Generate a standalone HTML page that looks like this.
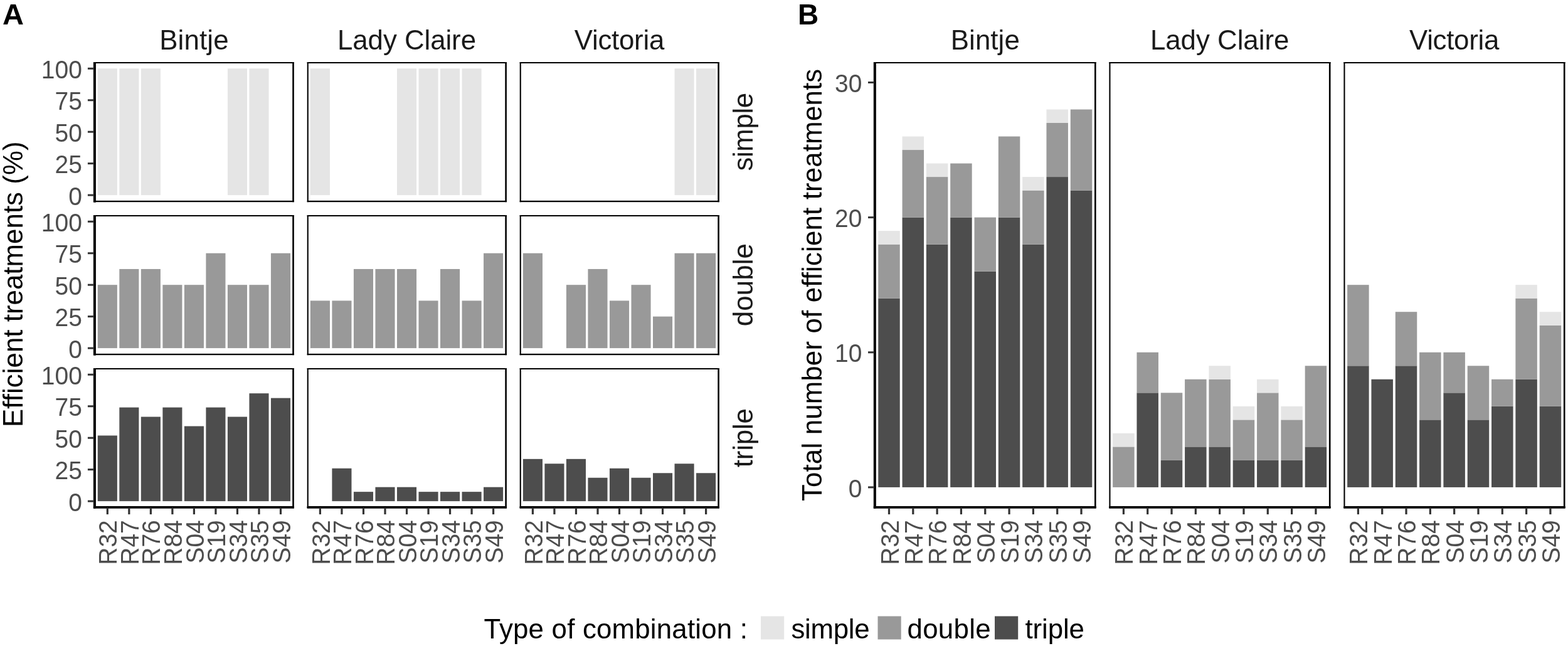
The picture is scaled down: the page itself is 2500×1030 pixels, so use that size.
<!DOCTYPE html>
<html><head><meta charset="utf-8"><title>Efficient treatments</title>
<style>
html,body{margin:0;padding:0;background:#fff;}
body{width:2500px;height:1030px;overflow:hidden;}
svg{display:block;}
svg text{font-family:'Liberation Sans', Arial, sans-serif;}
</style></head><body>
<svg width="2500" height="1030" viewBox="0 0 2500 1030" shape-rendering="geometricPrecision">
<rect x="0" y="0" width="2500" height="1030" fill="#ffffff"/>
<rect x="155.78" y="109.29" width="31.07" height="201.82" fill="#e5e5e5"/>
<rect x="190.30" y="109.29" width="31.07" height="201.82" fill="#e5e5e5"/>
<rect x="224.82" y="109.29" width="31.07" height="201.82" fill="#e5e5e5"/>
<rect x="362.91" y="109.29" width="31.07" height="201.82" fill="#e5e5e5"/>
<rect x="397.43" y="109.29" width="31.07" height="201.82" fill="#e5e5e5"/>
<rect x="150.60" y="99.00" width="318.20" height="2.00" fill="#000000"/>
<rect x="150.60" y="319.90" width="318.20" height="2.30" fill="#000000"/>
<rect x="150.60" y="99.00" width="2.10" height="223.20" fill="#000000"/>
<rect x="466.20" y="99.00" width="2.60" height="223.20" fill="#000000"/>
<rect x="148.90" y="99.00" width="3.80" height="223.70" fill="#000000"/>
<rect x="139.90" y="309.61" width="10.00" height="3.00" fill="#333333"/>
<text transform="translate(130.90,326.71) scale(1,1.0407)" font-size="39.0" fill="#4d4d4d" text-anchor="end">0</text>
<rect x="139.90" y="259.15" width="10.00" height="3.00" fill="#333333"/>
<text transform="translate(130.90,276.25) scale(1,1.0407)" font-size="39.0" fill="#4d4d4d" text-anchor="end">25</text>
<rect x="139.90" y="208.70" width="10.00" height="3.00" fill="#333333"/>
<text transform="translate(130.90,225.80) scale(1,1.0407)" font-size="39.0" fill="#4d4d4d" text-anchor="end">50</text>
<rect x="139.90" y="158.25" width="10.00" height="3.00" fill="#333333"/>
<text transform="translate(130.90,175.35) scale(1,1.0407)" font-size="39.0" fill="#4d4d4d" text-anchor="end">75</text>
<rect x="139.90" y="107.79" width="10.00" height="3.00" fill="#333333"/>
<text transform="translate(130.90,124.89) scale(1,1.0407)" font-size="39.0" fill="#4d4d4d" text-anchor="end">100</text>
<rect x="155.78" y="454.20" width="31.07" height="100.91" fill="#999999"/>
<rect x="190.30" y="428.97" width="31.07" height="126.14" fill="#999999"/>
<rect x="224.82" y="428.97" width="31.07" height="126.14" fill="#999999"/>
<rect x="259.34" y="454.20" width="31.07" height="100.91" fill="#999999"/>
<rect x="293.87" y="454.20" width="31.07" height="100.91" fill="#999999"/>
<rect x="328.39" y="403.75" width="31.07" height="151.36" fill="#999999"/>
<rect x="362.91" y="454.20" width="31.07" height="100.91" fill="#999999"/>
<rect x="397.43" y="454.20" width="31.07" height="100.91" fill="#999999"/>
<rect x="431.95" y="403.75" width="31.07" height="151.36" fill="#999999"/>
<rect x="150.60" y="343.00" width="318.20" height="2.00" fill="#000000"/>
<rect x="150.60" y="563.90" width="318.20" height="2.30" fill="#000000"/>
<rect x="150.60" y="343.00" width="2.10" height="223.20" fill="#000000"/>
<rect x="466.20" y="343.00" width="2.60" height="223.20" fill="#000000"/>
<rect x="148.90" y="343.00" width="3.80" height="223.70" fill="#000000"/>
<rect x="139.90" y="553.61" width="10.00" height="3.00" fill="#333333"/>
<text transform="translate(130.90,570.71) scale(1,1.0407)" font-size="39.0" fill="#4d4d4d" text-anchor="end">0</text>
<rect x="139.90" y="503.15" width="10.00" height="3.00" fill="#333333"/>
<text transform="translate(130.90,520.25) scale(1,1.0407)" font-size="39.0" fill="#4d4d4d" text-anchor="end">25</text>
<rect x="139.90" y="452.70" width="10.00" height="3.00" fill="#333333"/>
<text transform="translate(130.90,469.80) scale(1,1.0407)" font-size="39.0" fill="#4d4d4d" text-anchor="end">50</text>
<rect x="139.90" y="402.25" width="10.00" height="3.00" fill="#333333"/>
<text transform="translate(130.90,419.35) scale(1,1.0407)" font-size="39.0" fill="#4d4d4d" text-anchor="end">75</text>
<rect x="139.90" y="351.79" width="10.00" height="3.00" fill="#333333"/>
<text transform="translate(130.90,368.89) scale(1,1.0407)" font-size="39.0" fill="#4d4d4d" text-anchor="end">100</text>
<rect x="155.78" y="694.46" width="31.07" height="104.65" fill="#4d4d4d"/>
<rect x="190.30" y="649.61" width="31.07" height="149.49" fill="#4d4d4d"/>
<rect x="224.82" y="664.56" width="31.07" height="134.55" fill="#4d4d4d"/>
<rect x="259.34" y="649.61" width="31.07" height="149.49" fill="#4d4d4d"/>
<rect x="293.87" y="679.51" width="31.07" height="119.60" fill="#4d4d4d"/>
<rect x="328.39" y="649.61" width="31.07" height="149.49" fill="#4d4d4d"/>
<rect x="362.91" y="664.56" width="31.07" height="134.55" fill="#4d4d4d"/>
<rect x="397.43" y="627.19" width="31.07" height="171.92" fill="#4d4d4d"/>
<rect x="431.95" y="634.66" width="31.07" height="164.44" fill="#4d4d4d"/>
<rect x="150.60" y="587.00" width="318.20" height="2.00" fill="#000000"/>
<rect x="150.60" y="807.90" width="318.20" height="2.30" fill="#000000"/>
<rect x="150.60" y="587.00" width="2.10" height="223.20" fill="#000000"/>
<rect x="466.20" y="587.00" width="2.60" height="223.20" fill="#000000"/>
<rect x="148.90" y="587.00" width="3.80" height="223.70" fill="#000000"/>
<rect x="148.90" y="807.00" width="319.90" height="3.70" fill="#000000"/>
<rect x="139.90" y="797.61" width="10.00" height="3.00" fill="#333333"/>
<text transform="translate(130.90,814.71) scale(1,1.0407)" font-size="39.0" fill="#4d4d4d" text-anchor="end">0</text>
<rect x="139.90" y="747.15" width="10.00" height="3.00" fill="#333333"/>
<text transform="translate(130.90,764.25) scale(1,1.0407)" font-size="39.0" fill="#4d4d4d" text-anchor="end">25</text>
<rect x="139.90" y="696.70" width="10.00" height="3.00" fill="#333333"/>
<text transform="translate(130.90,713.80) scale(1,1.0407)" font-size="39.0" fill="#4d4d4d" text-anchor="end">50</text>
<rect x="139.90" y="646.25" width="10.00" height="3.00" fill="#333333"/>
<text transform="translate(130.90,663.35) scale(1,1.0407)" font-size="39.0" fill="#4d4d4d" text-anchor="end">75</text>
<rect x="139.90" y="595.79" width="10.00" height="3.00" fill="#333333"/>
<text transform="translate(130.90,612.89) scale(1,1.0407)" font-size="39.0" fill="#4d4d4d" text-anchor="end">100</text>
<rect x="169.71" y="809.20" width="3.20" height="10.90" fill="#333333"/>
<text transform="translate(186.41,829.20) rotate(-90) scale(1,1.0407)" font-size="39.0" fill="#4d4d4d" text-anchor="end">R32</text>
<rect x="204.23" y="809.20" width="3.20" height="10.90" fill="#333333"/>
<text transform="translate(220.93,829.20) rotate(-90) scale(1,1.0407)" font-size="39.0" fill="#4d4d4d" text-anchor="end">R47</text>
<rect x="238.76" y="809.20" width="3.20" height="10.90" fill="#333333"/>
<text transform="translate(255.46,829.20) rotate(-90) scale(1,1.0407)" font-size="39.0" fill="#4d4d4d" text-anchor="end">R76</text>
<rect x="273.28" y="809.20" width="3.20" height="10.90" fill="#333333"/>
<text transform="translate(289.98,829.20) rotate(-90) scale(1,1.0407)" font-size="39.0" fill="#4d4d4d" text-anchor="end">R84</text>
<rect x="307.80" y="809.20" width="3.20" height="10.90" fill="#333333"/>
<text transform="translate(324.50,829.20) rotate(-90) scale(1,1.0407)" font-size="39.0" fill="#4d4d4d" text-anchor="end">S04</text>
<rect x="342.32" y="809.20" width="3.20" height="10.90" fill="#333333"/>
<text transform="translate(359.02,829.20) rotate(-90) scale(1,1.0407)" font-size="39.0" fill="#4d4d4d" text-anchor="end">S19</text>
<rect x="376.84" y="809.20" width="3.20" height="10.90" fill="#333333"/>
<text transform="translate(393.54,829.20) rotate(-90) scale(1,1.0407)" font-size="39.0" fill="#4d4d4d" text-anchor="end">S34</text>
<rect x="411.37" y="809.20" width="3.20" height="10.90" fill="#333333"/>
<text transform="translate(428.07,829.20) rotate(-90) scale(1,1.0407)" font-size="39.0" fill="#4d4d4d" text-anchor="end">S35</text>
<rect x="445.89" y="809.20" width="3.20" height="10.90" fill="#333333"/>
<text transform="translate(462.59,829.20) rotate(-90) scale(1,1.0407)" font-size="39.0" fill="#4d4d4d" text-anchor="end">S49</text>
<text transform="translate(309.40,78.90) scale(1,1.0)" font-size="43.8" fill="#1a1a1a" text-anchor="middle" textLength="110.40" lengthAdjust="spacing">Bintje</text>
<rect x="494.88" y="109.29" width="31.07" height="201.82" fill="#e5e5e5"/>
<rect x="632.97" y="109.29" width="31.07" height="201.82" fill="#e5e5e5"/>
<rect x="667.49" y="109.29" width="31.07" height="201.82" fill="#e5e5e5"/>
<rect x="702.01" y="109.29" width="31.07" height="201.82" fill="#e5e5e5"/>
<rect x="736.53" y="109.29" width="31.07" height="201.82" fill="#e5e5e5"/>
<rect x="489.70" y="99.00" width="318.20" height="2.00" fill="#000000"/>
<rect x="489.70" y="319.90" width="318.20" height="2.30" fill="#000000"/>
<rect x="489.70" y="99.00" width="2.10" height="223.20" fill="#000000"/>
<rect x="805.30" y="99.00" width="2.60" height="223.20" fill="#000000"/>
<rect x="494.88" y="479.43" width="31.07" height="75.68" fill="#999999"/>
<rect x="529.40" y="479.43" width="31.07" height="75.68" fill="#999999"/>
<rect x="563.92" y="428.97" width="31.07" height="126.14" fill="#999999"/>
<rect x="598.44" y="428.97" width="31.07" height="126.14" fill="#999999"/>
<rect x="632.97" y="428.97" width="31.07" height="126.14" fill="#999999"/>
<rect x="667.49" y="479.43" width="31.07" height="75.68" fill="#999999"/>
<rect x="702.01" y="428.97" width="31.07" height="126.14" fill="#999999"/>
<rect x="736.53" y="479.43" width="31.07" height="75.68" fill="#999999"/>
<rect x="771.05" y="403.75" width="31.07" height="151.36" fill="#999999"/>
<rect x="489.70" y="343.00" width="318.20" height="2.00" fill="#000000"/>
<rect x="489.70" y="563.90" width="318.20" height="2.30" fill="#000000"/>
<rect x="489.70" y="343.00" width="2.10" height="223.20" fill="#000000"/>
<rect x="805.30" y="343.00" width="2.60" height="223.20" fill="#000000"/>
<rect x="529.40" y="746.79" width="31.07" height="52.32" fill="#4d4d4d"/>
<rect x="563.92" y="784.16" width="31.07" height="14.95" fill="#4d4d4d"/>
<rect x="598.44" y="776.68" width="31.07" height="22.42" fill="#4d4d4d"/>
<rect x="632.97" y="776.68" width="31.07" height="22.42" fill="#4d4d4d"/>
<rect x="667.49" y="784.16" width="31.07" height="14.95" fill="#4d4d4d"/>
<rect x="702.01" y="784.16" width="31.07" height="14.95" fill="#4d4d4d"/>
<rect x="736.53" y="784.16" width="31.07" height="14.95" fill="#4d4d4d"/>
<rect x="771.05" y="776.68" width="31.07" height="22.42" fill="#4d4d4d"/>
<rect x="489.70" y="587.00" width="318.20" height="2.00" fill="#000000"/>
<rect x="489.70" y="807.90" width="318.20" height="2.30" fill="#000000"/>
<rect x="489.70" y="587.00" width="2.10" height="223.20" fill="#000000"/>
<rect x="805.30" y="587.00" width="2.60" height="223.20" fill="#000000"/>
<rect x="489.70" y="807.00" width="318.20" height="3.70" fill="#000000"/>
<rect x="508.81" y="809.20" width="3.20" height="10.90" fill="#333333"/>
<text transform="translate(525.51,829.20) rotate(-90) scale(1,1.0407)" font-size="39.0" fill="#4d4d4d" text-anchor="end">R32</text>
<rect x="543.33" y="809.20" width="3.20" height="10.90" fill="#333333"/>
<text transform="translate(560.03,829.20) rotate(-90) scale(1,1.0407)" font-size="39.0" fill="#4d4d4d" text-anchor="end">R47</text>
<rect x="577.86" y="809.20" width="3.20" height="10.90" fill="#333333"/>
<text transform="translate(594.56,829.20) rotate(-90) scale(1,1.0407)" font-size="39.0" fill="#4d4d4d" text-anchor="end">R76</text>
<rect x="612.38" y="809.20" width="3.20" height="10.90" fill="#333333"/>
<text transform="translate(629.08,829.20) rotate(-90) scale(1,1.0407)" font-size="39.0" fill="#4d4d4d" text-anchor="end">R84</text>
<rect x="646.90" y="809.20" width="3.20" height="10.90" fill="#333333"/>
<text transform="translate(663.60,829.20) rotate(-90) scale(1,1.0407)" font-size="39.0" fill="#4d4d4d" text-anchor="end">S04</text>
<rect x="681.42" y="809.20" width="3.20" height="10.90" fill="#333333"/>
<text transform="translate(698.12,829.20) rotate(-90) scale(1,1.0407)" font-size="39.0" fill="#4d4d4d" text-anchor="end">S19</text>
<rect x="715.94" y="809.20" width="3.20" height="10.90" fill="#333333"/>
<text transform="translate(732.64,829.20) rotate(-90) scale(1,1.0407)" font-size="39.0" fill="#4d4d4d" text-anchor="end">S34</text>
<rect x="750.47" y="809.20" width="3.20" height="10.90" fill="#333333"/>
<text transform="translate(767.17,829.20) rotate(-90) scale(1,1.0407)" font-size="39.0" fill="#4d4d4d" text-anchor="end">S35</text>
<rect x="784.99" y="809.20" width="3.20" height="10.90" fill="#333333"/>
<text transform="translate(801.69,829.20) rotate(-90) scale(1,1.0407)" font-size="39.0" fill="#4d4d4d" text-anchor="end">S49</text>
<text transform="translate(648.50,78.90) scale(1,1.0)" font-size="43.8" fill="#1a1a1a" text-anchor="middle" textLength="221.00" lengthAdjust="spacing">Lady Claire</text>
<rect x="1075.53" y="109.29" width="31.07" height="201.82" fill="#e5e5e5"/>
<rect x="1110.05" y="109.29" width="31.07" height="201.82" fill="#e5e5e5"/>
<rect x="828.70" y="99.00" width="318.20" height="2.00" fill="#000000"/>
<rect x="828.70" y="319.90" width="318.20" height="2.30" fill="#000000"/>
<rect x="828.70" y="99.00" width="2.10" height="223.20" fill="#000000"/>
<rect x="1144.30" y="99.00" width="2.60" height="223.20" fill="#000000"/>
<rect x="833.88" y="403.75" width="31.07" height="151.36" fill="#999999"/>
<rect x="902.92" y="454.20" width="31.07" height="100.91" fill="#999999"/>
<rect x="937.44" y="428.97" width="31.07" height="126.14" fill="#999999"/>
<rect x="971.97" y="479.43" width="31.07" height="75.68" fill="#999999"/>
<rect x="1006.49" y="454.20" width="31.07" height="100.91" fill="#999999"/>
<rect x="1041.01" y="504.65" width="31.07" height="50.45" fill="#999999"/>
<rect x="1075.53" y="403.75" width="31.07" height="151.36" fill="#999999"/>
<rect x="1110.05" y="403.75" width="31.07" height="151.36" fill="#999999"/>
<rect x="828.70" y="343.00" width="318.20" height="2.00" fill="#000000"/>
<rect x="828.70" y="563.90" width="318.20" height="2.30" fill="#000000"/>
<rect x="828.70" y="343.00" width="2.10" height="223.20" fill="#000000"/>
<rect x="1144.30" y="343.00" width="2.60" height="223.20" fill="#000000"/>
<rect x="833.88" y="731.84" width="31.07" height="67.27" fill="#4d4d4d"/>
<rect x="868.40" y="739.31" width="31.07" height="59.80" fill="#4d4d4d"/>
<rect x="902.92" y="731.84" width="31.07" height="67.27" fill="#4d4d4d"/>
<rect x="937.44" y="761.74" width="31.07" height="37.37" fill="#4d4d4d"/>
<rect x="971.97" y="746.79" width="31.07" height="52.32" fill="#4d4d4d"/>
<rect x="1006.49" y="761.74" width="31.07" height="37.37" fill="#4d4d4d"/>
<rect x="1041.01" y="754.26" width="31.07" height="44.85" fill="#4d4d4d"/>
<rect x="1075.53" y="739.31" width="31.07" height="59.80" fill="#4d4d4d"/>
<rect x="1110.05" y="754.26" width="31.07" height="44.85" fill="#4d4d4d"/>
<rect x="828.70" y="587.00" width="318.20" height="2.00" fill="#000000"/>
<rect x="828.70" y="807.90" width="318.20" height="2.30" fill="#000000"/>
<rect x="828.70" y="587.00" width="2.10" height="223.20" fill="#000000"/>
<rect x="1144.30" y="587.00" width="2.60" height="223.20" fill="#000000"/>
<rect x="828.70" y="807.00" width="318.20" height="3.70" fill="#000000"/>
<rect x="847.81" y="809.20" width="3.20" height="10.90" fill="#333333"/>
<text transform="translate(864.51,829.20) rotate(-90) scale(1,1.0407)" font-size="39.0" fill="#4d4d4d" text-anchor="end">R32</text>
<rect x="882.33" y="809.20" width="3.20" height="10.90" fill="#333333"/>
<text transform="translate(899.03,829.20) rotate(-90) scale(1,1.0407)" font-size="39.0" fill="#4d4d4d" text-anchor="end">R47</text>
<rect x="916.86" y="809.20" width="3.20" height="10.90" fill="#333333"/>
<text transform="translate(933.56,829.20) rotate(-90) scale(1,1.0407)" font-size="39.0" fill="#4d4d4d" text-anchor="end">R76</text>
<rect x="951.38" y="809.20" width="3.20" height="10.90" fill="#333333"/>
<text transform="translate(968.08,829.20) rotate(-90) scale(1,1.0407)" font-size="39.0" fill="#4d4d4d" text-anchor="end">R84</text>
<rect x="985.90" y="809.20" width="3.20" height="10.90" fill="#333333"/>
<text transform="translate(1002.60,829.20) rotate(-90) scale(1,1.0407)" font-size="39.0" fill="#4d4d4d" text-anchor="end">S04</text>
<rect x="1020.42" y="809.20" width="3.20" height="10.90" fill="#333333"/>
<text transform="translate(1037.12,829.20) rotate(-90) scale(1,1.0407)" font-size="39.0" fill="#4d4d4d" text-anchor="end">S19</text>
<rect x="1054.94" y="809.20" width="3.20" height="10.90" fill="#333333"/>
<text transform="translate(1071.64,829.20) rotate(-90) scale(1,1.0407)" font-size="39.0" fill="#4d4d4d" text-anchor="end">S34</text>
<rect x="1089.47" y="809.20" width="3.20" height="10.90" fill="#333333"/>
<text transform="translate(1106.17,829.20) rotate(-90) scale(1,1.0407)" font-size="39.0" fill="#4d4d4d" text-anchor="end">S35</text>
<rect x="1123.99" y="809.20" width="3.20" height="10.90" fill="#333333"/>
<text transform="translate(1140.69,829.20) rotate(-90) scale(1,1.0407)" font-size="39.0" fill="#4d4d4d" text-anchor="end">S49</text>
<text transform="translate(987.50,78.90) scale(1,1.0)" font-size="43.8" fill="#1a1a1a" text-anchor="middle" textLength="143.50" lengthAdjust="spacing">Victoria</text>
<text transform="translate(1200.00,210.20) rotate(-90) scale(1,1.0)" font-size="43.8" fill="#1a1a1a" text-anchor="middle" textLength="124.80" lengthAdjust="spacing">simple</text>
<text transform="translate(1200.00,454.20) rotate(-90) scale(1,1.0)" font-size="43.8" fill="#1a1a1a" text-anchor="middle" textLength="132.20" lengthAdjust="spacing">double</text>
<text transform="translate(1200.00,698.20) rotate(-90) scale(1,1.0)" font-size="43.8" fill="#1a1a1a" text-anchor="middle" textLength="94.10" lengthAdjust="spacing">triple</text>
<text transform="translate(36.00,453.20) rotate(-90) scale(1,1.0)" font-size="43.8" fill="#000000" text-anchor="middle" textLength="455.40" lengthAdjust="spacing">Efficient treatments (%)</text>
<rect x="1400.25" y="475.72" width="34.48" height="301.21" fill="#4d4d4d"/>
<rect x="1400.25" y="389.65" width="34.48" height="86.06" fill="#999999"/>
<rect x="1400.25" y="368.14" width="34.48" height="21.52" fill="#e5e5e5"/>
<rect x="1438.56" y="346.62" width="34.48" height="430.30" fill="#4d4d4d"/>
<rect x="1438.56" y="239.05" width="34.48" height="107.58" fill="#999999"/>
<rect x="1438.56" y="217.53" width="34.48" height="21.52" fill="#e5e5e5"/>
<rect x="1476.88" y="389.65" width="34.48" height="387.27" fill="#4d4d4d"/>
<rect x="1476.88" y="282.08" width="34.48" height="107.58" fill="#999999"/>
<rect x="1476.88" y="260.56" width="34.48" height="21.52" fill="#e5e5e5"/>
<rect x="1515.19" y="346.62" width="34.48" height="430.30" fill="#4d4d4d"/>
<rect x="1515.19" y="260.56" width="34.48" height="86.06" fill="#999999"/>
<rect x="1553.51" y="432.68" width="34.48" height="344.24" fill="#4d4d4d"/>
<rect x="1553.51" y="346.62" width="34.48" height="86.06" fill="#999999"/>
<rect x="1591.82" y="346.62" width="34.48" height="430.30" fill="#4d4d4d"/>
<rect x="1591.82" y="217.53" width="34.48" height="129.09" fill="#999999"/>
<rect x="1630.14" y="389.65" width="34.48" height="387.27" fill="#4d4d4d"/>
<rect x="1630.14" y="303.59" width="34.48" height="86.06" fill="#999999"/>
<rect x="1630.14" y="282.08" width="34.48" height="21.52" fill="#e5e5e5"/>
<rect x="1668.45" y="282.08" width="34.48" height="494.85" fill="#4d4d4d"/>
<rect x="1668.45" y="196.02" width="34.48" height="86.06" fill="#999999"/>
<rect x="1668.45" y="174.50" width="34.48" height="21.52" fill="#e5e5e5"/>
<rect x="1706.77" y="303.59" width="34.48" height="473.33" fill="#4d4d4d"/>
<rect x="1706.77" y="174.50" width="34.48" height="129.09" fill="#999999"/>
<rect x="1394.50" y="99.00" width="353.10" height="2.00" fill="#000000"/>
<rect x="1394.50" y="807.90" width="353.10" height="2.30" fill="#000000"/>
<rect x="1394.50" y="99.00" width="2.10" height="711.20" fill="#000000"/>
<rect x="1745.00" y="99.00" width="2.60" height="711.20" fill="#000000"/>
<rect x="1392.80" y="99.00" width="3.80" height="711.70" fill="#000000"/>
<rect x="1392.80" y="807.00" width="354.80" height="3.70" fill="#000000"/>
<rect x="1384.00" y="775.43" width="10.00" height="3.00" fill="#333333"/>
<text transform="translate(1374.50,792.53) scale(1,1.0407)" font-size="39.0" fill="#4d4d4d" text-anchor="end">0</text>
<rect x="1384.00" y="560.28" width="10.00" height="3.00" fill="#333333"/>
<text transform="translate(1374.50,577.38) scale(1,1.0407)" font-size="39.0" fill="#4d4d4d" text-anchor="end">10</text>
<rect x="1384.00" y="345.12" width="10.00" height="3.00" fill="#333333"/>
<text transform="translate(1374.50,362.22) scale(1,1.0407)" font-size="39.0" fill="#4d4d4d" text-anchor="end">20</text>
<rect x="1384.00" y="129.97" width="10.00" height="3.00" fill="#333333"/>
<text transform="translate(1374.50,147.07) scale(1,1.0407)" font-size="39.0" fill="#4d4d4d" text-anchor="end">30</text>
<rect x="1415.89" y="809.20" width="3.20" height="10.90" fill="#333333"/>
<text transform="translate(1432.59,829.20) rotate(-90) scale(1,1.0407)" font-size="39.0" fill="#4d4d4d" text-anchor="end">R32</text>
<rect x="1454.20" y="809.20" width="3.20" height="10.90" fill="#333333"/>
<text transform="translate(1470.90,829.20) rotate(-90) scale(1,1.0407)" font-size="39.0" fill="#4d4d4d" text-anchor="end">R47</text>
<rect x="1492.52" y="809.20" width="3.20" height="10.90" fill="#333333"/>
<text transform="translate(1509.22,829.20) rotate(-90) scale(1,1.0407)" font-size="39.0" fill="#4d4d4d" text-anchor="end">R76</text>
<rect x="1530.83" y="809.20" width="3.20" height="10.90" fill="#333333"/>
<text transform="translate(1547.53,829.20) rotate(-90) scale(1,1.0407)" font-size="39.0" fill="#4d4d4d" text-anchor="end">R84</text>
<rect x="1569.15" y="809.20" width="3.20" height="10.90" fill="#333333"/>
<text transform="translate(1585.85,829.20) rotate(-90) scale(1,1.0407)" font-size="39.0" fill="#4d4d4d" text-anchor="end">S04</text>
<rect x="1607.47" y="809.20" width="3.20" height="10.90" fill="#333333"/>
<text transform="translate(1624.17,829.20) rotate(-90) scale(1,1.0407)" font-size="39.0" fill="#4d4d4d" text-anchor="end">S19</text>
<rect x="1645.78" y="809.20" width="3.20" height="10.90" fill="#333333"/>
<text transform="translate(1662.48,829.20) rotate(-90) scale(1,1.0407)" font-size="39.0" fill="#4d4d4d" text-anchor="end">S34</text>
<rect x="1684.10" y="809.20" width="3.20" height="10.90" fill="#333333"/>
<text transform="translate(1700.80,829.20) rotate(-90) scale(1,1.0407)" font-size="39.0" fill="#4d4d4d" text-anchor="end">S35</text>
<rect x="1722.41" y="809.20" width="3.20" height="10.90" fill="#333333"/>
<text transform="translate(1739.11,829.20) rotate(-90) scale(1,1.0407)" font-size="39.0" fill="#4d4d4d" text-anchor="end">S49</text>
<text transform="translate(1570.75,78.90) scale(1,1.0)" font-size="43.8" fill="#1a1a1a" text-anchor="middle" textLength="110.10" lengthAdjust="spacing">Bintje</text>
<rect x="1774.15" y="712.38" width="34.48" height="64.55" fill="#999999"/>
<rect x="1774.15" y="690.87" width="34.48" height="21.52" fill="#e5e5e5"/>
<rect x="1812.46" y="626.32" width="34.48" height="150.61" fill="#4d4d4d"/>
<rect x="1812.46" y="561.78" width="34.48" height="64.55" fill="#999999"/>
<rect x="1850.78" y="733.90" width="34.48" height="43.03" fill="#4d4d4d"/>
<rect x="1850.78" y="626.32" width="34.48" height="107.58" fill="#999999"/>
<rect x="1889.09" y="712.38" width="34.48" height="64.55" fill="#4d4d4d"/>
<rect x="1889.09" y="604.81" width="34.48" height="107.58" fill="#999999"/>
<rect x="1927.41" y="712.38" width="34.48" height="64.55" fill="#4d4d4d"/>
<rect x="1927.41" y="604.81" width="34.48" height="107.58" fill="#999999"/>
<rect x="1927.41" y="583.29" width="34.48" height="21.52" fill="#e5e5e5"/>
<rect x="1965.72" y="733.90" width="34.48" height="43.03" fill="#4d4d4d"/>
<rect x="1965.72" y="669.35" width="34.48" height="64.55" fill="#999999"/>
<rect x="1965.72" y="647.84" width="34.48" height="21.52" fill="#e5e5e5"/>
<rect x="2004.04" y="733.90" width="34.48" height="43.03" fill="#4d4d4d"/>
<rect x="2004.04" y="626.32" width="34.48" height="107.58" fill="#999999"/>
<rect x="2004.04" y="604.81" width="34.48" height="21.52" fill="#e5e5e5"/>
<rect x="2042.35" y="733.90" width="34.48" height="43.03" fill="#4d4d4d"/>
<rect x="2042.35" y="669.35" width="34.48" height="64.55" fill="#999999"/>
<rect x="2042.35" y="647.84" width="34.48" height="21.52" fill="#e5e5e5"/>
<rect x="2080.67" y="712.38" width="34.48" height="64.55" fill="#4d4d4d"/>
<rect x="2080.67" y="583.29" width="34.48" height="129.09" fill="#999999"/>
<rect x="1768.40" y="99.00" width="353.10" height="2.00" fill="#000000"/>
<rect x="1768.40" y="807.90" width="353.10" height="2.30" fill="#000000"/>
<rect x="1768.40" y="99.00" width="2.10" height="711.20" fill="#000000"/>
<rect x="2118.90" y="99.00" width="2.60" height="711.20" fill="#000000"/>
<rect x="1768.40" y="807.00" width="353.10" height="3.70" fill="#000000"/>
<rect x="1789.79" y="809.20" width="3.20" height="10.90" fill="#333333"/>
<text transform="translate(1806.49,829.20) rotate(-90) scale(1,1.0407)" font-size="39.0" fill="#4d4d4d" text-anchor="end">R32</text>
<rect x="1828.10" y="809.20" width="3.20" height="10.90" fill="#333333"/>
<text transform="translate(1844.80,829.20) rotate(-90) scale(1,1.0407)" font-size="39.0" fill="#4d4d4d" text-anchor="end">R47</text>
<rect x="1866.42" y="809.20" width="3.20" height="10.90" fill="#333333"/>
<text transform="translate(1883.12,829.20) rotate(-90) scale(1,1.0407)" font-size="39.0" fill="#4d4d4d" text-anchor="end">R76</text>
<rect x="1904.73" y="809.20" width="3.20" height="10.90" fill="#333333"/>
<text transform="translate(1921.43,829.20) rotate(-90) scale(1,1.0407)" font-size="39.0" fill="#4d4d4d" text-anchor="end">R84</text>
<rect x="1943.05" y="809.20" width="3.20" height="10.90" fill="#333333"/>
<text transform="translate(1959.75,829.20) rotate(-90) scale(1,1.0407)" font-size="39.0" fill="#4d4d4d" text-anchor="end">S04</text>
<rect x="1981.37" y="809.20" width="3.20" height="10.90" fill="#333333"/>
<text transform="translate(1998.07,829.20) rotate(-90) scale(1,1.0407)" font-size="39.0" fill="#4d4d4d" text-anchor="end">S19</text>
<rect x="2019.68" y="809.20" width="3.20" height="10.90" fill="#333333"/>
<text transform="translate(2036.38,829.20) rotate(-90) scale(1,1.0407)" font-size="39.0" fill="#4d4d4d" text-anchor="end">S34</text>
<rect x="2058.00" y="809.20" width="3.20" height="10.90" fill="#333333"/>
<text transform="translate(2074.70,829.20) rotate(-90) scale(1,1.0407)" font-size="39.0" fill="#4d4d4d" text-anchor="end">S35</text>
<rect x="2096.31" y="809.20" width="3.20" height="10.90" fill="#333333"/>
<text transform="translate(2113.01,829.20) rotate(-90) scale(1,1.0407)" font-size="39.0" fill="#4d4d4d" text-anchor="end">S49</text>
<text transform="translate(1944.65,78.90) scale(1,1.0)" font-size="43.8" fill="#1a1a1a" text-anchor="middle" textLength="221.50" lengthAdjust="spacing">Lady Claire</text>
<rect x="2148.15" y="583.29" width="34.48" height="193.64" fill="#4d4d4d"/>
<rect x="2148.15" y="454.20" width="34.48" height="129.09" fill="#999999"/>
<rect x="2186.46" y="604.81" width="34.48" height="172.12" fill="#4d4d4d"/>
<rect x="2224.78" y="583.29" width="34.48" height="193.64" fill="#4d4d4d"/>
<rect x="2224.78" y="497.23" width="34.48" height="86.06" fill="#999999"/>
<rect x="2263.09" y="669.35" width="34.48" height="107.58" fill="#4d4d4d"/>
<rect x="2263.09" y="561.78" width="34.48" height="107.58" fill="#999999"/>
<rect x="2301.41" y="626.32" width="34.48" height="150.61" fill="#4d4d4d"/>
<rect x="2301.41" y="561.78" width="34.48" height="64.55" fill="#999999"/>
<rect x="2339.72" y="669.35" width="34.48" height="107.58" fill="#4d4d4d"/>
<rect x="2339.72" y="583.29" width="34.48" height="86.06" fill="#999999"/>
<rect x="2378.04" y="647.84" width="34.48" height="129.09" fill="#4d4d4d"/>
<rect x="2378.04" y="604.81" width="34.48" height="43.03" fill="#999999"/>
<rect x="2416.35" y="604.81" width="34.48" height="172.12" fill="#4d4d4d"/>
<rect x="2416.35" y="475.72" width="34.48" height="129.09" fill="#999999"/>
<rect x="2416.35" y="454.20" width="34.48" height="21.52" fill="#e5e5e5"/>
<rect x="2454.67" y="647.84" width="34.48" height="129.09" fill="#4d4d4d"/>
<rect x="2454.67" y="518.75" width="34.48" height="129.09" fill="#999999"/>
<rect x="2454.67" y="497.23" width="34.48" height="21.52" fill="#e5e5e5"/>
<rect x="2142.40" y="99.00" width="353.10" height="2.00" fill="#000000"/>
<rect x="2142.40" y="807.90" width="353.10" height="2.30" fill="#000000"/>
<rect x="2142.40" y="99.00" width="2.10" height="711.20" fill="#000000"/>
<rect x="2492.90" y="99.00" width="2.60" height="711.20" fill="#000000"/>
<rect x="2142.40" y="807.00" width="353.10" height="3.70" fill="#000000"/>
<rect x="2163.79" y="809.20" width="3.20" height="10.90" fill="#333333"/>
<text transform="translate(2180.49,829.20) rotate(-90) scale(1,1.0407)" font-size="39.0" fill="#4d4d4d" text-anchor="end">R32</text>
<rect x="2202.10" y="809.20" width="3.20" height="10.90" fill="#333333"/>
<text transform="translate(2218.80,829.20) rotate(-90) scale(1,1.0407)" font-size="39.0" fill="#4d4d4d" text-anchor="end">R47</text>
<rect x="2240.42" y="809.20" width="3.20" height="10.90" fill="#333333"/>
<text transform="translate(2257.12,829.20) rotate(-90) scale(1,1.0407)" font-size="39.0" fill="#4d4d4d" text-anchor="end">R76</text>
<rect x="2278.73" y="809.20" width="3.20" height="10.90" fill="#333333"/>
<text transform="translate(2295.43,829.20) rotate(-90) scale(1,1.0407)" font-size="39.0" fill="#4d4d4d" text-anchor="end">R84</text>
<rect x="2317.05" y="809.20" width="3.20" height="10.90" fill="#333333"/>
<text transform="translate(2333.75,829.20) rotate(-90) scale(1,1.0407)" font-size="39.0" fill="#4d4d4d" text-anchor="end">S04</text>
<rect x="2355.37" y="809.20" width="3.20" height="10.90" fill="#333333"/>
<text transform="translate(2372.07,829.20) rotate(-90) scale(1,1.0407)" font-size="39.0" fill="#4d4d4d" text-anchor="end">S19</text>
<rect x="2393.68" y="809.20" width="3.20" height="10.90" fill="#333333"/>
<text transform="translate(2410.38,829.20) rotate(-90) scale(1,1.0407)" font-size="39.0" fill="#4d4d4d" text-anchor="end">S34</text>
<rect x="2432.00" y="809.20" width="3.20" height="10.90" fill="#333333"/>
<text transform="translate(2448.70,829.20) rotate(-90) scale(1,1.0407)" font-size="39.0" fill="#4d4d4d" text-anchor="end">S35</text>
<rect x="2470.31" y="809.20" width="3.20" height="10.90" fill="#333333"/>
<text transform="translate(2487.01,829.20) rotate(-90) scale(1,1.0407)" font-size="39.0" fill="#4d4d4d" text-anchor="end">S49</text>
<text transform="translate(2318.65,78.90) scale(1,1.0)" font-size="43.8" fill="#1a1a1a" text-anchor="middle" textLength="143.30" lengthAdjust="spacing">Victoria</text>
<text transform="translate(1309.60,454.45) rotate(-90) scale(1,1.0)" font-size="43.8" fill="#000000" text-anchor="middle" textLength="689.30" lengthAdjust="spacing">Total number of efficient treatments</text>
<text transform="translate(4.00,38.80) scale(1,1.0)" font-size="47" fill="#000000" text-anchor="start" font-weight="bold">A</text>
<text transform="translate(1271.90,38.80) scale(1,1.017)" font-size="46" fill="#000000" text-anchor="start" font-weight="bold">B</text>
<text transform="translate(771.40,1017.60) scale(1,1.0)" font-size="43.8" fill="#000000" text-anchor="start" textLength="420.50" lengthAdjust="spacing">Type of combination :</text>
<rect x="1213.00" y="982.50" width="37.20" height="37.00" fill="#e5e5e5"/>
<text transform="translate(1261.40,1017.90) scale(1,1.0)" font-size="43.8" fill="#000000" text-anchor="start" textLength="125.30" lengthAdjust="spacing">simple</text>
<rect x="1399.50" y="982.50" width="37.20" height="37.00" fill="#999999"/>
<text transform="translate(1446.60,1017.90) scale(1,1.0)" font-size="43.8" fill="#000000" text-anchor="start" textLength="132.90" lengthAdjust="spacing">double</text>
<rect x="1586.00" y="982.50" width="37.20" height="37.00" fill="#4d4d4d"/>
<text transform="translate(1634.50,1017.90) scale(1,1.0)" font-size="43.8" fill="#000000" text-anchor="start" textLength="94.40" lengthAdjust="spacing">triple</text>
</svg>
</body></html>
